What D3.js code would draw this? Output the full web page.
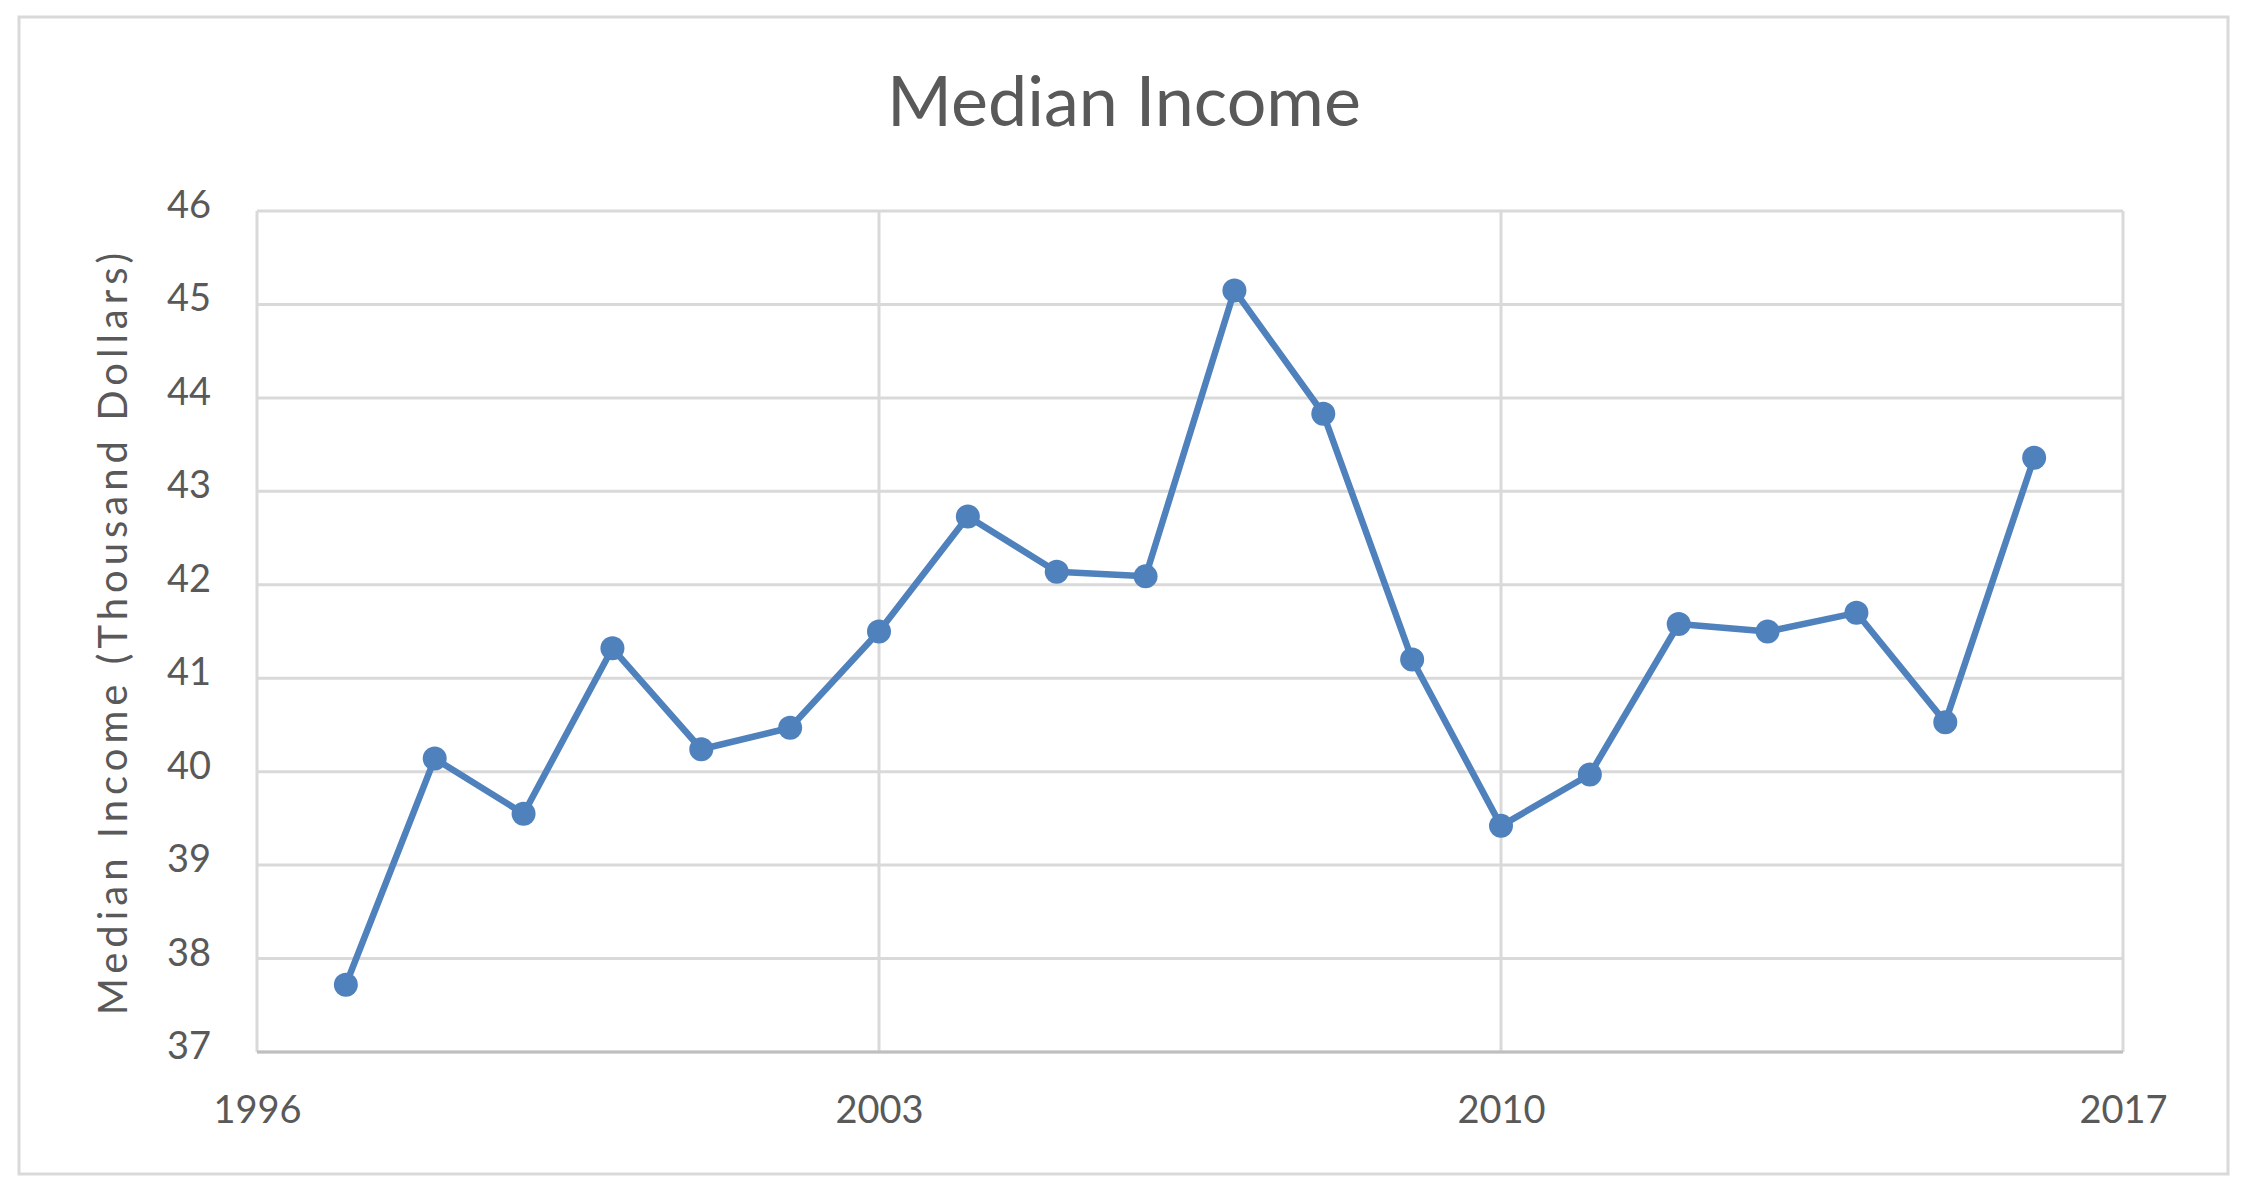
<!DOCTYPE html>
<html>
<head>
    <title>Median Income</title>
    <script src="https://d3js.org/d3.v7.min.js"></script>
    <style>
        body { margin: 0; background: #fff; }
        text { font-family: Lato, "Open Sans", sans-serif; fill: #595959; }
    </style>
</head>
<body>
<div id="chart"></div>

<script>
    // data
    var years = [1997, 1998, 1999, 2000, 2001, 2002, 2003, 2004, 2005, 2006,
                 2007, 2008, 2009, 2010, 2011, 2012, 2013, 2014, 2015, 2016];
    var income = [37.72, 40.14, 39.55, 41.32, 40.24, 40.47, 41.50, 42.73, 42.14, 42.09,
                  45.15, 43.83, 41.20, 39.42, 39.97, 41.58, 41.50, 41.70, 40.53, 43.36];
    var xTicks = [1996, 2003, 2010, 2017];
    var yTicks = [37, 38, 39, 40, 41, 42, 43, 44, 45, 46];

    var W = 2251, H = 1196;
    var margin = {top: 211, right: 128, bottom: 144, left: 257},
        width = W - margin.left - margin.right,
        height = H - margin.top - margin.bottom;

    var svg = d3.select("#chart")
        .append("svg")
        .attr("width", W)
        .attr("height", H);

    // outer chart border
    svg.append("rect")
        .attr("x", 19).attr("y", 17)
        .attr("width", 2209).attr("height", 1157)
        .attr("fill", "#fff")
        .attr("stroke", "#d9d9d9")
        .attr("stroke-width", 3);

    svg.append("text")
        .attr("x", 1124)
        .attr("y", 126)
        .attr("text-anchor", "middle")
        .style("font-size", "70px")
        .text("Median Income");

    var g = svg.append("g")
        .attr("transform", "translate(" + margin.left + "," + margin.top + ")");

    var x = d3.scaleLinear().domain([1996, 2017]).range([0, width]);
    var y = d3.scaleLinear().domain([37, 46]).range([height, 0]);

    // horizontal gridlines
    g.append("g")
        .selectAll("line")
        .data(yTicks)
        .join("line")
        .attr("x1", 0).attr("x2", width)
        .attr("y1", d => y(d)).attr("y2", d => y(d))
        .attr("stroke", "#d9d9d9")
        .attr("stroke-width", 3);

    // vertical gridlines
    g.append("g")
        .selectAll("line")
        .data(xTicks)
        .join("line")
        .attr("x1", d => x(d)).attr("x2", d => x(d))
        .attr("y1", 0).attr("y2", height)
        .attr("stroke", "#d9d9d9")
        .attr("stroke-width", 3);

    // bottom axis line
    g.append("line")
        .attr("x1", 0).attr("x2", width)
        .attr("y1", height).attr("y2", height)
        .attr("stroke", "#bfbfbf")
        .attr("stroke-width", 3);

    // y axis labels
    var yAxis = g.append("g")
        .call(d3.axisLeft(y).tickValues(yTicks).tickSize(0).tickPadding(46));
    yAxis.select(".domain").remove();
    yAxis.selectAll("text")
        .attr("dy", "0.17em")
        .style("font-size", "38px")
        .attr("fill", "#595959");

    // x axis labels
    var xAxis = g.append("g")
        .attr("transform", "translate(0," + height + ")")
        .call(d3.axisBottom(x).tickValues(xTicks).tickFormat(d3.format("d")).tickSize(0).tickPadding(44));
    xAxis.select(".domain").remove();
    xAxis.selectAll("text")
        .style("font-size", "38px")
        .attr("fill", "#595959");

    // y axis title
    svg.append("text")
        .attr("transform", "translate(112," + (margin.top + height / 2) + ") rotate(-90)")
        .attr("text-anchor", "middle")
        .attr("dominant-baseline", "central")
        .style("font-size", "40px")
        .style("letter-spacing", "5px")
        .text("Median Income (Thousand Dollars)");

    var data = years.map((d, i) => ({year: d, value: income[i]}));

    var line = d3.line()
        .x(d => x(d.year))
        .y(d => y(d.value));

    g.append("path")
        .datum(data)
        .attr("fill", "none")
        .attr("stroke", "#4f81bd")
        .attr("stroke-width", 6.5)
        .attr("stroke-linejoin", "round")
        .attr("d", line);

    g.append("g")
        .selectAll("circle")
        .data(data)
        .join("circle")
        .attr("cx", d => x(d.year))
        .attr("cy", d => y(d.value))
        .attr("r", 12)
        .attr("fill", "#4f81bd");
</script>
</body>
</html>
